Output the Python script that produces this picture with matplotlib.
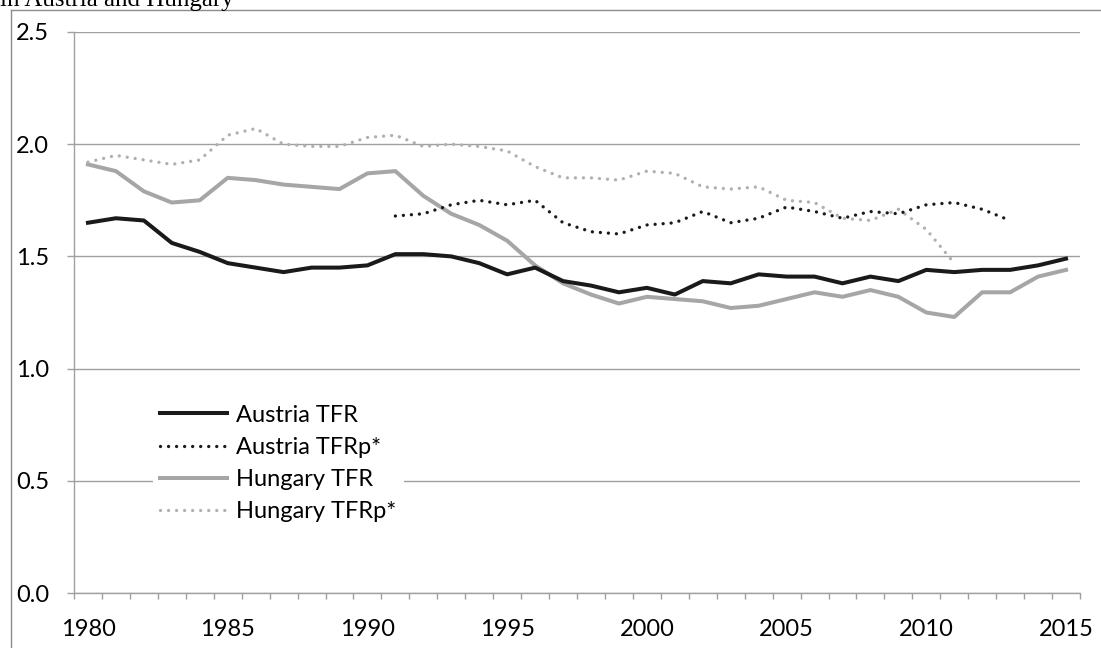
import matplotlib
matplotlib.use("Agg")
import matplotlib.pyplot as plt
from matplotlib.lines import Line2D
from matplotlib.ticker import FixedLocator, FormatStrFormatter
import numpy as np

plt.rcParams['font.family'] = ['Lato', 'DejaVu Sans']

years = list(range(1980, 2016))
austria_tfr = [1.65, 1.67, 1.66, 1.56, 1.52, 1.47, 1.45, 1.43, 1.45, 1.45,
               1.46, 1.51, 1.51, 1.50, 1.47, 1.42, 1.45, 1.39, 1.37, 1.34,
               1.36, 1.33, 1.39, 1.38, 1.42, 1.41, 1.41, 1.38, 1.41, 1.39,
               1.44, 1.43, 1.44, 1.44, 1.46, 1.49]
hungary_tfr = [1.91, 1.88, 1.79, 1.74, 1.75, 1.85, 1.84, 1.82, 1.81, 1.80,
               1.87, 1.88, 1.77, 1.69, 1.64, 1.57, 1.46, 1.38, 1.33, 1.29,
               1.32, 1.31, 1.30, 1.27, 1.28, 1.31, 1.34, 1.32, 1.35, 1.32,
               1.25, 1.23, 1.34, 1.34, 1.41, 1.44]
austria_tfrp_years = list(range(1991, 2014))
austria_tfrp = [1.68, 1.69, 1.73, 1.75, 1.73, 1.75, 1.65, 1.61, 1.60, 1.64,
                1.65, 1.70, 1.65, 1.67, 1.72, 1.70, 1.67, 1.70, 1.69, 1.73,
                1.74, 1.71, 1.66]
hungary_tfrp_years = list(range(1980, 2012))
hungary_tfrp = [1.92, 1.95, 1.93, 1.91, 1.93, 2.04, 2.07, 2.00, 1.99, 1.99,
                2.03, 2.04, 1.99, 2.00, 1.99, 1.97, 1.90, 1.85, 1.85, 1.84,
                1.88, 1.87, 1.81, 1.80, 1.81, 1.75, 1.74, 1.67, 1.66, 1.71,
                1.62, 1.47]
y_ticks = [0.0, 0.5, 1.0, 1.5, 2.0, 2.5]
x_labels = [1980, 1985, 1990, 1995, 2000, 2005, 2010, 2015]
title_text = "in Austria and Hungary"

W, H = 1101, 648
FS = 17
fig = plt.figure(figsize=(W / 100, H / 100), dpi=100)
ax = fig.add_axes([74 / W, (H - 593) / H, (1080 - 74) / W, (593 - 32) / H])

black = '#1a1a1a'
gray = '#a6a6a6'
grid_c = '#a0a0a0'
dot = (0, (0.01, 2.4))

ax.plot(years, austria_tfr, color=black, lw=2.9, label='Austria TFR', zorder=4)
ax.plot(austria_tfrp_years, austria_tfrp, color=black, lw=2.4, ls=dot,
        dash_capstyle='round', label='Austria TFRp*', zorder=4)
ax.plot(years, hungary_tfr, color=gray, lw=2.9, label='Hungary TFR', zorder=3)
ax.plot(hungary_tfrp_years, hungary_tfrp, color='#b0b0b0', lw=2.4, ls=dot,
        dash_capstyle='round', label='Hungary TFRp*', zorder=3)

ax.set_xlim(1979.5, 2015.5)
ax.set_ylim(0, 2.5)

ax.yaxis.set_major_locator(FixedLocator(y_ticks))
ax.yaxis.set_major_formatter(FormatStrFormatter('%.1f'))
ax.grid(axis='y', color=grid_c, lw=1.0, zorder=1)
ax.tick_params(axis='y', length=5, width=1.0, color=grid_c, pad=13,
               labelsize=FS, labelcolor='black')

ax.xaxis.set_major_locator(FixedLocator(x_labels))
ax.xaxis.set_minor_locator(FixedLocator(np.arange(1979.5, 2016, 1.0)))
ax.tick_params(axis='x', which='major', length=0, pad=19, labelsize=FS,
               labelcolor='black')
ax.tick_params(axis='x', which='minor', length=4, width=1.0, color=grid_c)

for s in ['top', 'right']:
    ax.spines[s].set_visible(False)
for s in ['left', 'bottom']:
    ax.spines[s].set_color(grid_c)
    ax.spines[s].set_linewidth(1.0)

leg = ax.legend(loc='center left', bbox_to_anchor=((153 - 74) / 1006, (593 - 463.5) / 561),
                fontsize=FS, frameon=True, fancybox=False, framealpha=1,
                handlelength=2.85, handletextpad=0.38, labelspacing=0.48,
                borderpad=0.3, borderaxespad=0)
leg.get_frame().set_edgecolor('none')
leg.get_frame().set_facecolor('white')
leg.set_zorder(5)

# outer frame (cropped chart border)
fig.add_artist(Line2D([11 / W, 11 / W], [0, 1 - 10 / H], color='#8c8c8c', lw=1.0))
fig.add_artist(Line2D([11 / W, 1], [1 - 10 / H, 1 - 10 / H], color='#8c8c8c', lw=1.0))

fig.text(0 / W, 1 - 6 / H, title_text, family='Liberation Serif', fontsize=18,
         va='baseline', ha='left', color='black')

fig.savefig('out.png', dpi=100)
